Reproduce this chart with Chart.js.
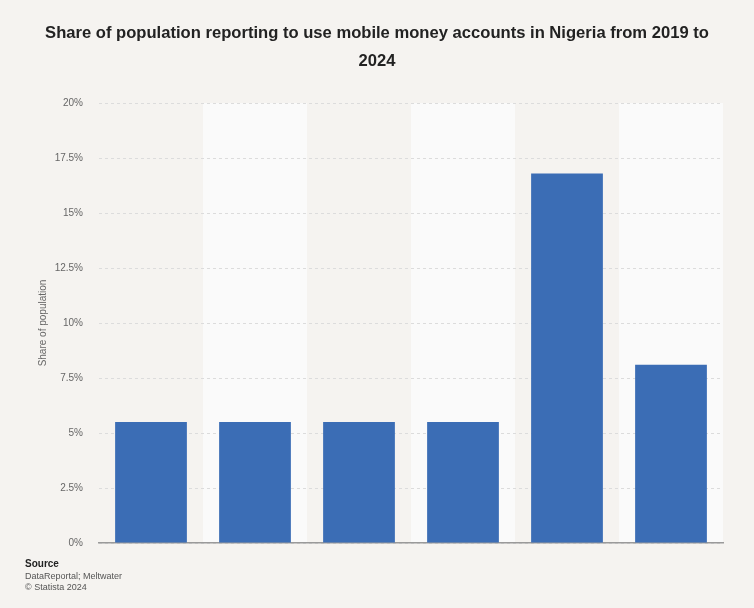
<!DOCTYPE html>
<html>
<head>
<meta charset="utf-8">
<script src="https://cdn.jsdelivr.net/npm/chart.js@4/dist/chart.umd.min.js"></script>
<style>
    html, body { margin: 0; padding: 0; background: #f5f3f0; }
    #wrap { position: relative; width: 754px; height: 608px; font-family: "Liberation Sans", Arial, sans-serif; }
    #title { position: absolute; left: 0; top: 19px; width: 754px; text-align: center; font-weight: bold; font-size: 16.6px; line-height: 28px; color: #222; }
    #source { position: absolute; left: 25px; top: 558px; font-size: 9px; line-height: 11.5px; color: #555; }
    #source b { color: #222; font-size: 10px; }
</style>
</head>
<body>
<div id="wrap">
    <canvas id="bar-chart" width="754" height="608"></canvas>
    <div id="title">Share of population reporting to use mobile money accounts in Nigeria from 2019 to<br>2024</div>
    <div id="source"><b>Source</b><br>DataReportal; Meltwater<br>© Statista 2024</div>
</div>
<script>
    var years = ['2019', '2020', '2021', '2022', '2023', '2024'];
    var shares = [5.5, 5.5, 5.5, 5.5, 16.8, 8.1];
    var yTicks = [0, 2.5, 5, 7.5, 10, 12.5, 15, 17.5, 20];

    // light bands behind every second column
    var bandPlugin = {
        id: 'bands',
        beforeDraw: function (chart) {
            var ctx = chart.ctx;
            var area = chart.chartArea;
            var x = chart.scales.x;
            var half = (x.getPixelForValue(1) - x.getPixelForValue(0)) / 2;
            ctx.save();
            ctx.fillStyle = '#fafafa';
            for (var i = 1; i < years.length; i += 2) {
                var c = x.getPixelForValue(i);
                ctx.fillRect(c - half, area.top, half * 2, area.bottom - area.top);
            }
            ctx.restore();
        }
    };

    var ctx = document.getElementById('bar-chart').getContext('2d');
    var chart = new Chart(ctx, {
        type: 'bar',
        data: {
            labels: years,
            datasets: [{
                data: shares,
                backgroundColor: '#3b6db5',
                borderWidth: 0,
                categoryPercentage: 1,
                barPercentage: 0.69
            }]
        },
        options: {
            responsive: false,
            animation: false,
            layout: { padding: { left: 33, right: 31, top: 103, bottom: 57 } },
            plugins: {
                legend: { display: false },
                tooltip: { enabled: false }
            },
            scales: {
                x: {
                    grid: { display: false },
                    ticks: { display: false },
                    border: { display: true, color: '#9a9a9a', width: 1.5 }
                },
                y: {
                    min: 0,
                    max: 20,
                    afterBuildTicks: function (scale) {
                        scale.ticks = yTicks.map(function (v) { return { value: v }; });
                    },
                    afterFit: function (scale) { scale.width = 66; },
                    ticks: {
                        color: '#666',
                        font: { size: 10, family: 'Liberation Sans' },
                        padding: 16,
                        callback: function (v) { return v + '%'; }
                    },
                    grid: { color: '#dcdcdc', drawTicks: false },
                    border: { display: false, dash: [3, 3] },
                    title: {
                        display: true,
                        text: 'Share of population',
                        color: '#666',
                        font: { size: 10, family: 'Liberation Sans' },
                        padding: 4
                    }
                }
            }
        },
        plugins: [bandPlugin]
    });
</script>
</body>
</html>
